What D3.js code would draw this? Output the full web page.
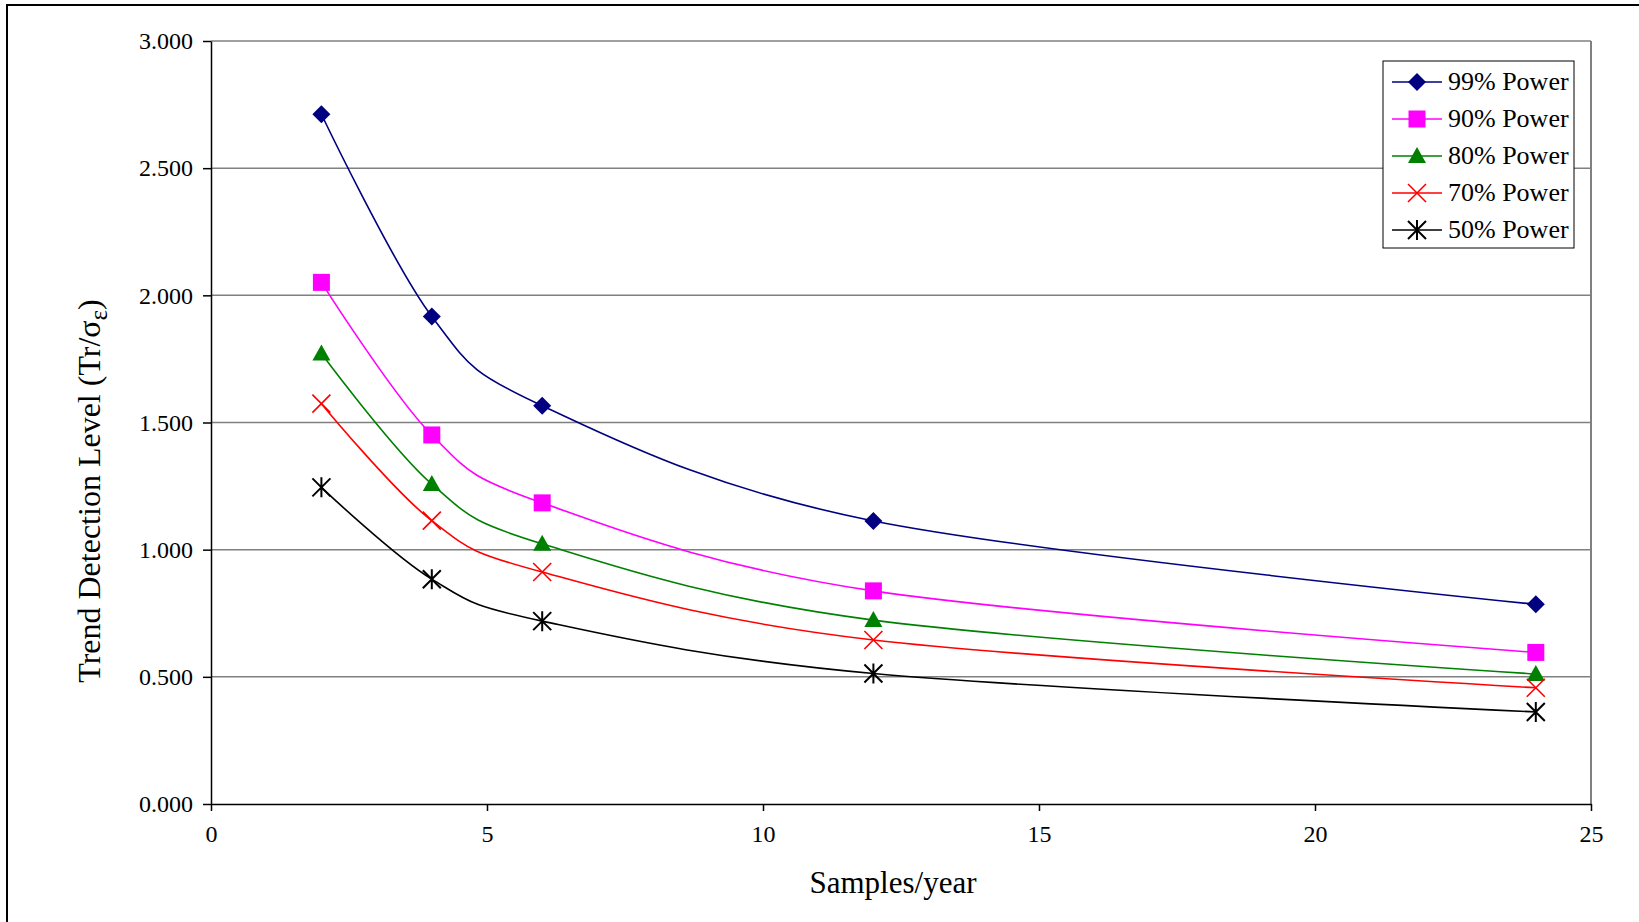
<!DOCTYPE html>
<html>
<head>
<meta charset="utf-8">
<script src="https://cdn.jsdelivr.net/npm/d3@7"></script>
<style>
  html, body { margin: 0; padding: 0; background: #fff; }
  svg { display: block; }
  svg text { font-family: 'Liberation Serif', 'Times New Roman', serif !important; fill: #000; }
</style>
</head>
<body>
<svg id="chart" width="1639" height="922"></svg>
<script>
// Samples per year on the x axis
const samplesPerYear = [2, 4, 6, 12, 24];

// Trend detection level (Tr/σε) for each power level
const power99 = [2.712, 1.917, 1.566, 1.113, 0.785];
const power90 = [2.051, 1.451, 1.184, 0.838, 0.596];
const power80 = [1.771, 1.258, 1.023, 0.723, 0.511];
const power70 = [1.574, 1.114, 0.912, 0.645, 0.457];
const power50 = [1.245, 0.884, 0.719, 0.513, 0.362];

const seriesNames = ["99% Power", "90% Power", "80% Power", "70% Power", "50% Power"];
const seriesValues = [power99, power90, power80, power70, power50];
const seriesColors = ["#000080", "#FF00FF", "#008000", "#FF0000", "#000000"];
const seriesMarkers = ["diamond", "square", "triangle", "cross", "asterisk"];

const yTicks = [0, 0.5, 1, 1.5, 2, 2.5, 3];
const xTicks = [0, 5, 10, 15, 20, 25];

const serif = "Liberation Serif, Times New Roman, serif";
const svg = d3.select("#chart").attr("font-family", serif);

// Outer chart frame (only top and left edges fall inside the canvas)
svg.append("rect")
  .attr("x", 7).attr("y", 5)
  .attr("width", 1700).attr("height", 1000)
  .attr("fill", "none").attr("stroke", "#000").attr("stroke-width", 2);

const plot = { left: 211, right: 1591, top: 41, bottom: 804 };

const x = d3.scaleLinear().domain([0, 25]).range([plot.left, plot.right]);
const y = d3.scaleLinear().domain([0, 3]).range([plot.bottom, plot.top]);

// Horizontal gridlines
svg.append("g")
  .selectAll("line")
  .data(yTicks.filter(d => d > 0))
  .join("line")
  .attr("x1", plot.left).attr("x2", plot.right)
  .attr("y1", d => y(d)).attr("y2", d => y(d))
  .attr("stroke", "#808080").attr("stroke-width", 1.5);

// Right edge of the plot area
svg.append("line")
  .attr("x1", plot.right).attr("x2", plot.right)
  .attr("y1", plot.top).attr("y2", plot.bottom)
  .attr("stroke", "#808080").attr("stroke-width", 2);

// Y axis
const yAxis = svg.append("g")
  .attr("transform", `translate(${plot.left},0)`)
  .call(d3.axisLeft(y).tickValues(yTicks).tickFormat(d3.format(".3f")).tickSizeOuter(0).tickSizeInner(8).tickPadding(10))
  .attr("font-family", serif).attr("font-size", 24);
yAxis.select(".domain").attr("stroke", "#000").attr("stroke-width", 1.5);
yAxis.selectAll(".tick line").attr("stroke", "#000").attr("stroke-width", 1.5);
yAxis.selectAll(".tick text").attr("fill", "#000");

// X axis
const xAxis = svg.append("g")
  .attr("transform", `translate(0,${plot.bottom})`)
  .call(d3.axisBottom(x).tickValues(xTicks).tickFormat(d3.format("d")).tickSizeOuter(0).tickSizeInner(7).tickPadding(14))
  .attr("font-family", serif).attr("font-size", 24);
xAxis.select(".domain").attr("stroke", "#000").attr("stroke-width", 1.5);
xAxis.selectAll(".tick line").attr("stroke", "#000").attr("stroke-width", 1.5);
xAxis.selectAll(".tick text").attr("fill", "#000");

// Axis titles
svg.append("text")
  .attr("x", 893).attr("y", 893)
  .attr("text-anchor", "middle")
  .attr("font-size", 31)
  .text("Samples/year");

const yTitle = svg.append("text")
  .attr("transform", "translate(100,491) rotate(-90)")
  .attr("text-anchor", "middle")
  .attr("font-size", 32);
yTitle.append("tspan").text("Trend Detection Level (Tr/σ");
yTitle.append("tspan").attr("dy", 7).attr("font-size", 25).text("ε");
yTitle.append("tspan").attr("dy", -7).text(")");

// Marker drawing
function drawMarker(g, type, color) {
  const s = 9;
  if (type === "diamond") {
    g.append("path").attr("d", `M0,${-s}L${s},0L0,${s}L${-s},0Z`).attr("fill", color);
  } else if (type === "square") {
    g.append("rect").attr("x", -8.5).attr("y", -8.5).attr("width", 17).attr("height", 17).attr("fill", color);
  } else if (type === "triangle") {
    g.append("path").attr("d", `M0,-9L9,7L-9,7Z`).attr("fill", color);
  } else if (type === "cross") {
    g.append("path").attr("d", `M-9,-9L9,9M9,-9L-9,9`).attr("stroke", color).attr("stroke-width", 1.6).attr("fill", "none");
  } else if (type === "asterisk") {
    g.append("path").attr("d", `M-9,-9L9,9M9,-9L-9,9M0,-10L0,10`).attr("stroke", color).attr("stroke-width", 2).attr("fill", "none");
  }
}

// Smoothed series lines with markers
const line = d3.line()
  .x(d => x(d[0]))
  .y(d => y(d[1]))
  .curve(d3.curveCatmullRom.alpha(0));

seriesValues.forEach((vals, i) => {
  const pts = samplesPerYear.map((s, j) => [s, vals[j]]);
  const g = svg.append("g");
  g.append("path")
    .datum(pts)
    .attr("d", line)
    .attr("fill", "none")
    .attr("stroke", seriesColors[i])
    .attr("stroke-width", 1.6);
  pts.forEach(p => {
    const m = g.append("g").attr("transform", `translate(${x(p[0])},${y(p[1])})`);
    drawMarker(m, seriesMarkers[i], seriesColors[i]);
  });
});

// Legend
const legend = svg.append("g");
legend.append("rect")
  .attr("x", 1383).attr("y", 61)
  .attr("width", 191).attr("height", 187)
  .attr("fill", "#fff").attr("stroke", "#000").attr("stroke-width", 1);

seriesNames.forEach((name, i) => {
  const cy = 82 + i * 37;
  legend.append("line")
    .attr("x1", 1392).attr("x2", 1442)
    .attr("y1", cy).attr("y2", cy)
    .attr("stroke", seriesColors[i]).attr("stroke-width", 1.6);
  const m = legend.append("g").attr("transform", `translate(1417,${cy})`);
  drawMarker(m, seriesMarkers[i], seriesColors[i]);
  legend.append("text")
    .attr("x", 1448).attr("y", cy + 8)
    .attr("font-size", 26)
    .text(name);
});
</script>
</body>
</html>
